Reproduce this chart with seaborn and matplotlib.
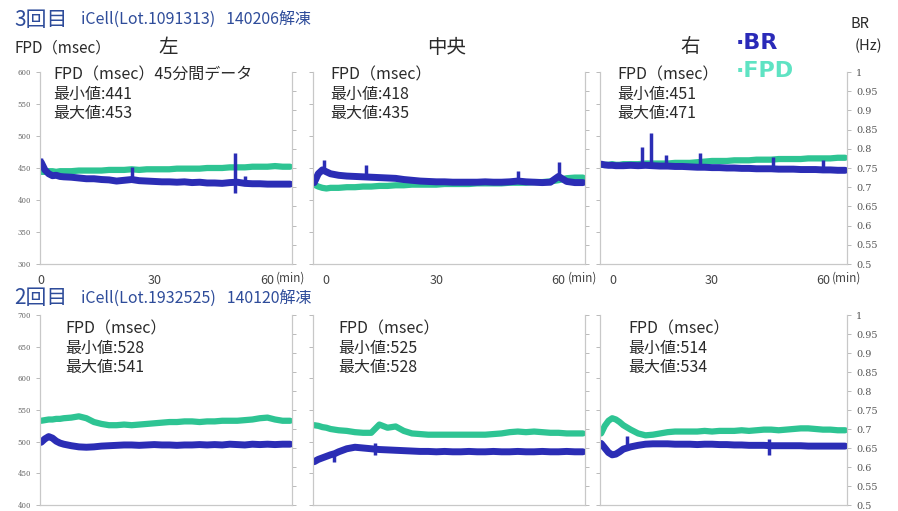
import numpy as np
import seaborn as sns
import matplotlib.pyplot as plt
import matplotlib.transforms as mtrans
from matplotlib.ticker import FuncFormatter

sns.set_style("white")
plt.rcParams['font.family'] = ['Noto Sans CJK JP', 'DejaVu Sans']

# time grid (min)
T = [0, 1, 2, 3, 4, 5, 6, 8, 10, 12, 14, 16, 18, 20, 22, 24, 26, 28, 30, 32,
     34, 36, 38, 40, 42, 44, 46, 48, 50, 52, 54, 56, 58, 60, 62, 64, 66]

# 3回目 (top row) FPD (msec) / BR (Hz)
fpd_3_left = [444, 444, 445, 445, 444, 445, 445, 445, 446, 446, 446, 446, 447, 447, 447, 448, 447, 448, 448, 448,
              448, 449, 449, 449, 449, 450, 450, 450, 451, 451, 451, 452, 452, 452, 453, 452, 452]
br_3_left = [0.765, 0.745, 0.735, 0.730, 0.731, 0.728, 0.727, 0.726, 0.724, 0.722, 0.722, 0.720, 0.719, 0.716, 0.718,
             0.720, 0.717, 0.716, 0.715, 0.714, 0.714, 0.713, 0.714, 0.712, 0.713, 0.711, 0.711, 0.710, 0.712, 0.713,
             0.710, 0.709, 0.709, 0.708, 0.708, 0.708, 0.708]
fpd_3_mid = [424, 421, 419, 418, 419, 419, 419, 420, 420, 421, 421, 422, 422, 423, 423, 424, 424, 424, 424, 425,
             425, 425, 425, 426, 426, 426, 426, 427, 427, 427, 428, 428, 429, 431, 434, 435, 435]
br_3_mid = [0.712, 0.735, 0.745, 0.740, 0.735, 0.733, 0.731, 0.729, 0.728, 0.727, 0.726, 0.725, 0.724, 0.723, 0.720,
            0.718, 0.716, 0.715, 0.714, 0.714, 0.713, 0.713, 0.713, 0.713, 0.714, 0.713, 0.713, 0.714, 0.716, 0.714,
            0.713, 0.712, 0.713, 0.728, 0.715, 0.712, 0.712]
fpd_3_right = [455, 455, 455, 456, 455, 455, 456, 456, 456, 457, 457, 457, 457, 458, 458, 458, 459, 460, 461, 461,
               461, 462, 462, 462, 463, 463, 463, 464, 464, 464, 464, 465, 465, 465, 465, 466, 466]
br_3_right = [0.760, 0.758, 0.757, 0.757, 0.756, 0.756, 0.756, 0.757, 0.756, 0.757, 0.756, 0.755, 0.755, 0.754, 0.754,
              0.753, 0.752, 0.752, 0.751, 0.751, 0.750, 0.750, 0.749, 0.749, 0.748, 0.748, 0.748, 0.747, 0.747, 0.747,
              0.746, 0.746, 0.746, 0.745, 0.745, 0.744, 0.744]

# 2回目 (bottom row)
fpd_2_left = [533, 534, 535, 535, 536, 536, 537, 538, 540, 537, 531, 528, 526, 526, 527, 526, 527, 528, 529, 530,
              531, 531, 532, 532, 531, 532, 532, 533, 533, 533, 534, 535, 537, 538, 535, 533, 533]
br_2_left = [0.665, 0.674, 0.680, 0.676, 0.668, 0.663, 0.660, 0.656, 0.653, 0.652, 0.653, 0.655, 0.656, 0.657, 0.658,
             0.658, 0.657, 0.658, 0.659, 0.658, 0.658, 0.657, 0.658, 0.658, 0.659, 0.658, 0.659, 0.658, 0.660, 0.659,
             0.658, 0.660, 0.659, 0.660, 0.659, 0.660, 0.660]
fpd_2_mid = [526, 525, 523, 522, 520, 519, 518, 517, 515, 514, 514, 527, 522, 524, 517, 513, 512, 511, 511, 511,
             511, 511, 511, 511, 511, 512, 513, 515, 516, 515, 516, 515, 514, 514, 513, 513, 513]
br_2_mid = [0.614, 0.620, 0.624, 0.628, 0.632, 0.635, 0.640, 0.648, 0.652, 0.650, 0.648, 0.646, 0.645, 0.644, 0.643,
            0.642, 0.641, 0.641, 0.640, 0.641, 0.640, 0.640, 0.641, 0.640, 0.640, 0.641, 0.640, 0.640, 0.641, 0.640,
            0.640, 0.641, 0.640, 0.640, 0.641, 0.640, 0.640]
fpd_2_right = [513, 525, 533, 537, 535, 531, 526, 519, 513, 510, 511, 513, 515, 516, 516, 516, 516, 517, 516, 517,
               517, 517, 518, 517, 518, 519, 519, 518, 519, 520, 521, 521, 520, 519, 519, 518, 518]
br_2_right = [0.662, 0.650, 0.638, 0.632, 0.634, 0.640, 0.647, 0.653, 0.657, 0.660, 0.661, 0.661, 0.661, 0.660, 0.660,
              0.660, 0.659, 0.660, 0.660, 0.659, 0.659, 0.658, 0.658, 0.657, 0.657, 0.657, 0.656, 0.656, 0.656, 0.656,
              0.656, 0.655, 0.655, 0.655, 0.655, 0.655, 0.655]

# BR spikes (time, value)
spk_t = {
    "3L": [0, 24, 51.5, 51.5, 54], "3M": [2.5, 12.7, 50, 60], "3R": [11, 13.5, 17.6, 26.7, 46.6, 60],
    "2L": [], "2M": [4.8, 15, 15], "2R": [6.9, 45.3, 45.3],
}
spk_v = {
    "3L": [0.775, 0.752, 0.790, 0.686, 0.730], "3M": [0.772, 0.758, 0.742, 0.766],
    "3R": [0.805, 0.842, 0.784, 0.789, 0.779, 0.770],
    "2L": [], "2M": [0.613, 0.663, 0.632], "2R": [0.682, 0.632, 0.674],
}

stats = {
    "3L": "FPD（msec）45分間データ\n最小値:441\n最大値:453",
    "3M": "FPD（msec）\n最小値:418\n最大値:435",
    "3R": "FPD（msec）\n最小値:451\n最大値:471",
    "2L": "FPD（msec）\n最小値:528\n最大値:541",
    "2M": "FPD（msec）\n最小値:525\n最大値:528",
    "2R": "FPD（msec）\n最小値:514\n最大値:534",
}

series = {
    "3L": (fpd_3_left, br_3_left), "3M": (fpd_3_mid, br_3_mid), "3R": (fpd_3_right, br_3_right),
    "2L": (fpd_2_left, br_2_left), "2M": (fpd_2_mid, br_2_mid), "2R": (fpd_2_right, br_2_right),
}

BLUE = "#2B2DB5"
GREEN = "#2EC493"
W, H = 898, 511


def px(x, y):
    return x / W, 1 - y / H


fig = plt.figure(figsize=(W / 100, H / 100), dpi=100)

cols = [(40, 292), (313, 585), (600, 847)]
rows = {"3": (72, 264, 300, 600), "2": (315, 505, 400, 700)}
names = ["L", "M", "R"]
# where the stats text block starts (pixels)
text_x = {"3": [53, 330, 617], "2": [65, 338, 628]}
text_y = {"3": 66, "2": 320}

for r, (ytop, ybot, lo, hi) in rows.items():
    for i, (x0, x1) in enumerate(cols):
        key = r + names[i]
        ax = fig.add_axes([x0 / W, 1 - ybot / H, (x1 - x0) / W, (ybot - ytop) / H])
        ax2 = ax.twinx()
        fpd, br = series[key]
        sns.lineplot(x=T, y=fpd, ax=ax, color=GREEN, lw=4.5)
        sns.lineplot(x=T, y=br, ax=ax2, color=BLUE, lw=5)
        if spk_t[key]:
            base = np.interp(spk_t[key], T, br)
            ax2.vlines(spk_t[key], base, spk_v[key], color=BLUE, lw=2.5)
        ax.set_xlim(-0.3, 66.5)
        ax.set_ylim(lo, hi)
        ax2.set_ylim(0.5, 1.0)
        ax.set_yticks(np.arange(lo, hi + 1, 50))
        ax2.set_yticks(np.arange(0.5, 1.001, 0.05))
        ax2.yaxis.set_major_formatter(FuncFormatter(lambda v, p: "%g" % round(v, 2)))
        for a in (ax, ax2):
            for s in a.spines.values():
                s.set_color("#C8C8C8")
                s.set_linewidth(0.8)
            a.spines["top"].set_visible(False)
            a.tick_params(length=3, width=0.6, color="#B0B0B0")
        ax.tick_params(axis="y", labelsize=5, labelcolor="#666666")
        ax2.tick_params(axis="y", labelsize=7, labelcolor="#555555")
        for lab in ax.get_yticklabels() + ax2.get_yticklabels():
            lab.set_family("DejaVu Serif")
        if i != 0:
            ax.set_yticklabels([])
        if i != 2:
            ax2.set_yticklabels([])
        ax.set_xlabel("")
        ax.set_ylabel("")
        ax2.set_ylabel("")
        if r == "3":
            ax.set_xticks([0, 30, 60])
            ax.set_xticklabels(["0", "30", "60"])
            ax.tick_params(axis="x", labelsize=9, labelcolor="#444444", pad=4)
            ax.text(62.3, -0.072, "(min)", transform=ax.get_xaxis_transform(),
                    fontsize=8.5, color="#444444", va="center", ha="left")
            if i != 0:
                # the "0" label sits a little right of the spine in the middle/right panels
                lab0 = ax.get_xticklabels()[0]
                shift = mtrans.ScaledTranslation(0.12, 0, fig.dpi_scale_trans)
                lab0.set_transform(lab0.get_transform() + shift)
        else:
            ax.set_xticks([0, 14, 28, 42, 56])
            ax.set_xticklabels([])
        fig.text(*px(text_x[r][i], text_y[r]), stats[key], fontsize=11.5,
                 color="#2A2A2A", va="top", ha="left", linespacing=1.2)

# titles / headers
fig.text(*px(14, 20), "3回目", fontsize=15, color="#2E4C9A", va="center")
fig.text(*px(81, 20), "iCell(Lot.1091313)   140206解凍", fontsize=11.5, color="#2E4C9A", va="center")
fig.text(*px(14, 298), "2回目", fontsize=15, color="#2E4C9A", va="center")
fig.text(*px(81, 299), "iCell(Lot.1932525)   140120解凍", fontsize=11.5, color="#2E4C9A", va="center")
fig.text(*px(14, 48), "FPD（msec）", fontsize=11, color="#2A2A2A", va="center")
fig.text(*px(168, 47), "左", fontsize=14, color="#2A2A2A", va="center", ha="center")
fig.text(*px(447, 47), "中央", fontsize=14, color="#2A2A2A", va="center", ha="center")
fig.text(*px(690, 46), "右", fontsize=14, color="#2A2A2A", va="center", ha="center")
fig.text(*px(736, 43), "·BR", fontsize=16, fontweight="bold", color="#2A2AB8", va="center", family="DejaVu Sans")
fig.text(*px(736, 71), "·FPD", fontsize=16, fontweight="bold", color="#5FE3C3", va="center", family="DejaVu Sans")
fig.text(*px(851, 24), "BR", fontsize=10.5, color="#2A2A2A", va="center")
fig.text(*px(855, 46), "(Hz)", fontsize=10.5, color="#2A2A2A", va="center")

fig.savefig("out.png", dpi=100)
